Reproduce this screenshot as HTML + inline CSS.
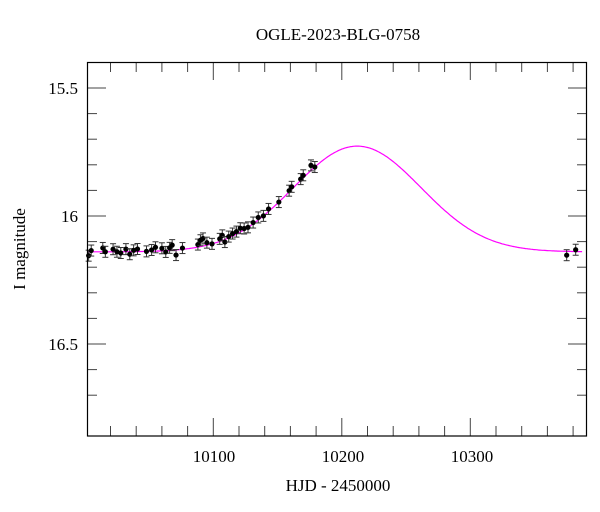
<!DOCTYPE html>
<html><head><style>
body{margin:0;background:#fff;}
svg{display:block;font-family:"Liberation Serif",serif;}
</style></head><body>
<svg id="s" width="600" height="512" xmlns="http://www.w3.org/2000/svg">
<rect width="600" height="512" fill="#fff"/>
<text x="338" y="40" font-size="17" text-anchor="middle">OGLE-2023-BLG-0758</text>
<text x="338" y="491" font-size="17" text-anchor="middle">HJD - 2450000</text>
<text transform="translate(25,249) rotate(-90)" font-size="17" text-anchor="middle">I magnitude</text>
<g font-size="17" text-anchor="end">
<text x="78" y="94">15.5</text>
<text x="78" y="222">16</text>
<text x="78" y="350">16.5</text>
</g>
<g font-size="17" text-anchor="middle">
<text x="214" y="462">10100</text>
<text x="343" y="462">10200</text>
<text x="472" y="462">10300</text>
</g>
<g id="ax" stroke="#000" stroke-width="1" fill="none"></g>
<g id="dat"></g>
<rect x="87.5" y="62.5" width="499" height="373.5" fill="none" stroke="#000" stroke-width="1.2"/>
</svg>
<script>
function px(t){return 84.8+(t-10000)*1.285;}
function py(m){return 88+(m-15.5)*256;}
function mod(t){var d=t-10212;return 16.14-0.413*Math.exp(-d*d/(2*49.7*49.7));}
var ax=document.getElementById('ax'),h='';
for(var t=10020;t<10390;t+=20){var x=px(t),L=(t%100==0)?18:10;
h+='<line x1="'+x+'" y1="62" x2="'+x+'" y2="'+(62+L)+'" stroke="#444"/>';
h+='<line x1="'+x+'" y1="436" x2="'+x+'" y2="'+(436-L)+'" stroke="#444"/>';}
for(var i=0;i<=13;i++){var m=15.4+i*0.1,y=py(m);if(y<63||y>435)continue;var L=(Math.abs(m*10%5)<0.01||Math.abs(m*10%5-5)<0.01)?19:10;
h+='<line x1="87" y1="'+y+'" x2="'+(87+L)+'" y2="'+y+'" stroke="#444"/>';
h+='<line x1="587" y1="'+y+'" x2="'+(587-L)+'" y2="'+y+'" stroke="#444"/>';}
ax.innerHTML=h;
var d='';
var pts='',first=true;
for(var t=10002;t<=10387;t+=1){pts+=(first?'M':'L')+px(t).toFixed(1)+','+py(mod(t)).toFixed(1);first=false;}
d+='<path d="'+pts+'" stroke="#ff00ff" stroke-width="1.2" fill="none"/>';
var data=[[10003,0.015],[10005,-0.005],[10014,-0.015],[10016,0],[10022,-0.01],[10025,0],[10028,0.005],[10032,-0.01],[10035,0.01],[10038,-0.005],[10041,-0.01],[10048,0],[10052,-0.005],[10055,-0.015],[10060,-0.01],[10063,0.005],[10066,-0.01],[10068,-0.02],[10071,0.02],[10076,-0.005],[10088,-0.01],[10090,-0.025],[10092,-0.03],[10095,-0.01],[10099,0],[10105,-0.01],[10107,-0.02],[10109,0.01],[10112,-0.005],[10115,-0.01],[10118,-0.01],[10121,-0.015],[10124,-0.005],[10127,0],[10131,-0.005],[10135,-0.01],[10139,0],[10143,-0.01],[10151,0],[10159,-0.005],[10161,-0.01],[10168,-0.005],[10170,-0.01],[10176,-0.02],[10179,0],[10375,0.015],[10382,-0.007]];
data.forEach(function(p){var x=px(p[0]),y=py(mod(p[0])+p[1]),e=5.5;
d+='<line x1="'+x+'" y1="'+(y-e)+'" x2="'+x+'" y2="'+(y+e)+'" stroke="#333" stroke-width="1"/>';
d+='<line x1="'+(x-3)+'" y1="'+(y-e)+'" x2="'+(x+3)+'" y2="'+(y-e)+'" stroke="#333" stroke-width="1"/>';
d+='<line x1="'+(x-3)+'" y1="'+(y+e)+'" x2="'+(x+3)+'" y2="'+(y+e)+'" stroke="#333" stroke-width="1"/>';
d+='<circle cx="'+x+'" cy="'+y+'" r="2.6" fill="#000"/>';});
document.getElementById('dat').innerHTML=d;
</script>
</body></html>
